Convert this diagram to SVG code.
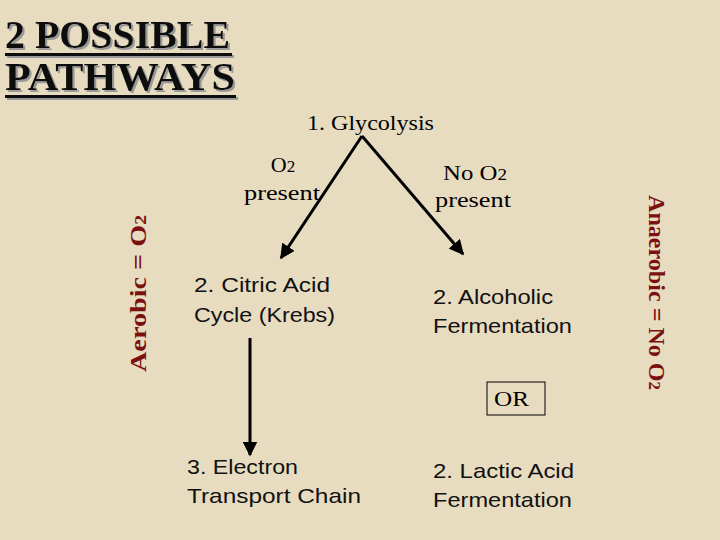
<svg xmlns="http://www.w3.org/2000/svg" width="720" height="540" viewBox="0 0 720 540">
<defs>
<marker id="ah" viewBox="0 0 10 10" refX="9" refY="5" markerWidth="5" markerHeight="5" orient="auto"><path d="M0,0 L10,5 L0,10 z" fill="#000"/></marker>
<filter id="shadow" x="-5%" y="-20%" width="110%" height="140%"><feDropShadow dx="2" dy="2" stdDeviation="0" flood-color="#999"/></filter>
<style>
.s{font-family:"Liberation Serif",serif;font-size:22px;fill:#000}
.a{font-family:"Liberation Sans",sans-serif;font-size:21px;fill:#111}
.r{font-family:"Liberation Serif",serif;font-size:23px;font-weight:bold;fill:#7a1010}
.t{font-family:"Liberation Serif",serif;font-size:39px;font-weight:bold;fill:#111}
.c{stroke:#000;stroke-width:3;fill:none;marker-end:url(#ah)}
</style>
</defs>
<rect width="720" height="540" fill="#e8dcc0"/>
<g id="title" filter="url(#shadow)">
<text class="t" x="5" y="48" textLength="225" lengthAdjust="spacingAndGlyphs">2 POSSIBLE</text>
<text class="t" x="5" y="90" textLength="230" lengthAdjust="spacingAndGlyphs">PATHWAYS</text>
<rect x="5" y="53" width="227" height="3" fill="#111"/>
<rect x="5" y="95" width="231" height="3" fill="#111"/>
</g>
<g id="connectors">
<path class="c" d="M362,136 L281,258"/>
<path class="c" d="M362,136 L463,254"/>
<path class="c" d="M250,338 L250,455"/>
</g>
<g id="glycolysis"><text class="s" x="307" y="130" textLength="127" lengthAdjust="spacingAndGlyphs">1. Glycolysis</text></g>
<g id="o2"><text class="s" x="283" y="172" text-anchor="middle">O<tspan font-size="17">2</tspan></text><text class="s" x="244" y="200" textLength="76" lengthAdjust="spacingAndGlyphs">present</text></g>
<g id="noo2"><text class="s" x="443" y="180" textLength="64" lengthAdjust="spacingAndGlyphs">No O<tspan font-size="17">2</tspan></text><text class="s" x="435" y="207" textLength="76" lengthAdjust="spacingAndGlyphs">present</text></g>
<g id="krebs"><text class="a" x="194" y="292" textLength="136" lengthAdjust="spacingAndGlyphs">2. Citric Acid</text><text class="a" x="194" y="322" textLength="141" lengthAdjust="spacingAndGlyphs">Cycle (Krebs)</text></g>
<g id="alcoholic"><text class="a" x="433" y="304" textLength="120" lengthAdjust="spacingAndGlyphs">2. Alcoholic</text><text class="a" x="433" y="333" textLength="139" lengthAdjust="spacingAndGlyphs">Fermentation</text></g>
<g id="or"><rect x="487" y="382" width="58" height="33" fill="none" stroke="#000" stroke-width="1"/><text class="s" x="494" y="406" textLength="35" lengthAdjust="spacingAndGlyphs">OR</text></g>
<g id="etc"><text class="a" x="187" y="474" textLength="111" lengthAdjust="spacingAndGlyphs">3. Electron</text><text class="a" x="187" y="503" textLength="174" lengthAdjust="spacingAndGlyphs">Transport Chain</text></g>
<g id="lactic"><text class="a" x="433" y="478" textLength="141" lengthAdjust="spacingAndGlyphs">2. Lactic Acid</text><text class="a" x="433" y="507" textLength="139" lengthAdjust="spacingAndGlyphs">Fermentation</text></g>
<g id="aerobic"><text class="r" transform="translate(146,372) rotate(-90)" textLength="157" lengthAdjust="spacingAndGlyphs">Aerobic = O<tspan font-size="16">2</tspan></text></g>
<g id="anaerobic"><text class="r" transform="translate(649,195) rotate(90)" textLength="195" lengthAdjust="spacingAndGlyphs">Anaerobic = No O<tspan font-size="16">2</tspan></text></g>
</svg>
